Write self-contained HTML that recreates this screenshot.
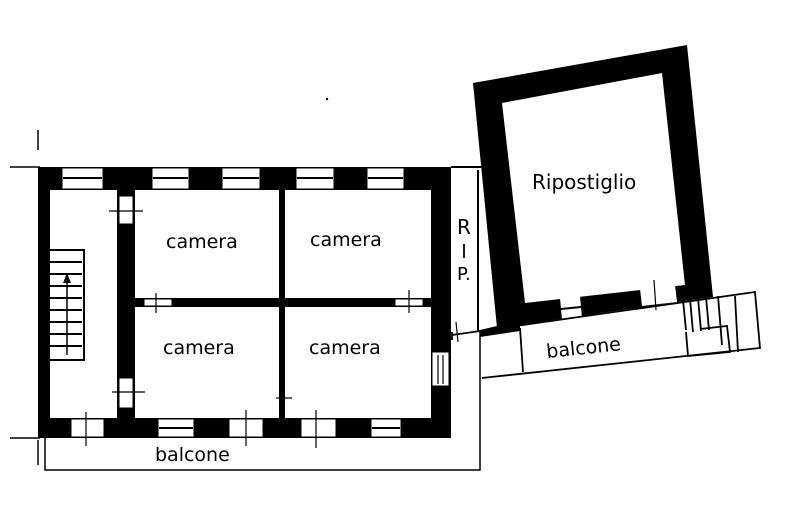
<!DOCTYPE html>
<html><head><meta charset="utf-8"><style>
html,body{margin:0;padding:0;background:#fff;}
svg{display:block}
text{font-family:"DejaVu Sans","Liberation Sans",sans-serif;fill:#000}
</style></head><body>
<svg width="800" height="520" viewBox="0 0 800 520" xmlns="http://www.w3.org/2000/svg">
<rect width="800" height="520" fill="#fff"/>
<line x1="10" y1="167" x2="40" y2="167" stroke="#000" stroke-width="1.5"/>
<line x1="38" y1="130" x2="38" y2="150" stroke="#000" stroke-width="1.5"/>
<line x1="10" y1="438" x2="40" y2="438" stroke="#000" stroke-width="1.5"/>
<line x1="38" y1="440" x2="38" y2="465" stroke="#000" stroke-width="1.5"/>
<circle cx="327" cy="99" r="1.2" fill="#000"/>
<path fill="#000" fill-rule="evenodd" d="M38,167 H451 V438 H38 Z M50,190 V418 H431 V190 Z"/>
<rect x="117" y="190" width="18" height="228" fill="#000"/>
<rect x="279" y="190" width="6" height="228" fill="#000"/>
<rect x="135" y="298" width="296" height="9" fill="#000"/>
<g fill="#fff" stroke="#000" stroke-width="1">
<rect x="119" y="196" width="14" height="28"/>
<rect x="119" y="378" width="14" height="30"/>
<rect x="144" y="299" width="28" height="7"/>
<rect x="395" y="299" width="28" height="7"/>
<rect x="432" y="352" width="17" height="34"/>
</g>
<g stroke="#000" stroke-width="1.2">
<line x1="109" y1="211" x2="143" y2="211"/>
<line x1="112" y1="392" x2="145" y2="392"/>
<line x1="156" y1="293" x2="156" y2="313"/>
<line x1="409" y1="290" x2="409" y2="313"/>
<line x1="438" y1="355" x2="438" y2="384"/>
<line x1="443" y1="355" x2="443" y2="384"/>
<line x1="284" y1="385" x2="284" y2="415"/>
<line x1="276" y1="398" x2="292" y2="398"/>
</g>
<g fill="#fff" stroke="#fff">
<rect x="63" y="169" width="39" height="19"/>
<rect x="153" y="169" width="35" height="19"/>
<rect x="223" y="169" width="36" height="19"/>
<rect x="297" y="169" width="36" height="19"/>
<rect x="368" y="169" width="35" height="19"/>
<rect x="72" y="420" width="31" height="16"/>
<rect x="159" y="420" width="34" height="16"/>
<rect x="230" y="420" width="32" height="16"/>
<rect x="302" y="420" width="33" height="16"/>
<rect x="372" y="420" width="28" height="16"/>
</g>
<g stroke="#000" stroke-width="2">
<line x1="63" y1="178" x2="102" y2="178"/>
<line x1="153" y1="178" x2="188" y2="178"/>
<line x1="223" y1="178" x2="259" y2="178"/>
<line x1="297" y1="178" x2="333" y2="178"/>
<line x1="368" y1="178" x2="403" y2="178"/>
<line x1="159" y1="428" x2="193" y2="428"/>
<line x1="372" y1="428" x2="400" y2="428"/>
</g>
<g stroke="#000" stroke-width="1.2">
<line x1="86" y1="412" x2="86" y2="446"/>
<line x1="246" y1="410" x2="246" y2="446"/>
<line x1="316" y1="410" x2="316" y2="448"/>
</g>
<g fill="none" stroke="#000" stroke-width="2">
<path d="M50,250 H84 V360 H50"/>
<line x1="50" y1="262" x2="82" y2="262"/>
<line x1="50" y1="274" x2="82" y2="274"/>
<line x1="50" y1="286" x2="82" y2="286"/>
<line x1="50" y1="298" x2="82" y2="298"/>
<line x1="50" y1="310" x2="82" y2="310"/>
<line x1="50" y1="322" x2="82" y2="322"/>
<line x1="50" y1="334" x2="82" y2="334"/>
<line x1="50" y1="346" x2="82" y2="346"/>
<line x1="67" y1="278" x2="67" y2="355" stroke-width="1.5"/>
</g>
<path d="M67,273 L63,283 H71 Z" fill="#000"/>
<text x="166" y="248" font-size="19">camera</text>
<text x="310" y="246" font-size="19">camera</text>
<text x="163" y="354" font-size="19">camera</text>
<text x="309" y="354" font-size="19">camera</text>
<path d="M45,438 V470 H480 V330" fill="none" stroke="#000" stroke-width="1.5"/>
<text x="155" y="461" font-size="19">balcone</text>
<path d="M451,167 H482 M478,170 V332" fill="none" stroke="#000" stroke-width="2"/>
<text x="457" y="234" font-size="20">R</text>
<line x1="464" y1="244" x2="464" y2="258" stroke="#000" stroke-width="1.8"/>
<text x="457" y="280" font-size="18">P.</text>
<path fill="#000" fill-rule="evenodd" d="M473,83 L687,45 L713,297 L497,328 Z M502,103 L525,303 L685,285 L662,73 Z"/>
<polygon points="480,330 497,326 497,322 520,320 520,331 480,337" fill="#000"/>
<polygon points="560,298 580,296 582,318 562,320" fill="#fff"/>
<line x1="561" y1="309" x2="581" y2="307" stroke="#000" stroke-width="2"/>
<polygon points="640,289 675,285 677,302 642,306" fill="#fff"/>
<line x1="654" y1="280" x2="656" y2="310" stroke="#000" stroke-width="1.2"/>
<text x="532" y="189" font-size="20">Ripostiglio</text>
<g fill="none" stroke="#000" stroke-width="1.8">
<path d="M452,335 L755,292 L760,348 L482,378"/>
<line x1="520" y1="328" x2="523" y2="372"/>
<line x1="452" y1="332" x2="452" y2="340"/>
</g>
<line x1="456" y1="322" x2="458" y2="342" stroke="#000" stroke-width="1.2"/>
<g stroke="#000" stroke-width="1.8" fill="none">
<line x1="683" y1="300" x2="686" y2="330"/>
<line x1="690" y1="299" x2="693" y2="332"/>
<line x1="698" y1="298" x2="701" y2="331"/>
<line x1="706" y1="297" x2="709" y2="330"/>
<line x1="718" y1="296" x2="722" y2="345"/>
<path d="M686,332 L688,356 L730,352 L727,326 L700,329"/>
<line x1="735" y1="296" x2="738" y2="352"/>
</g>
<text x="0" y="0" font-size="19" transform="translate(547,358) rotate(-6)">balcone</text>
</svg>
</body></html>
